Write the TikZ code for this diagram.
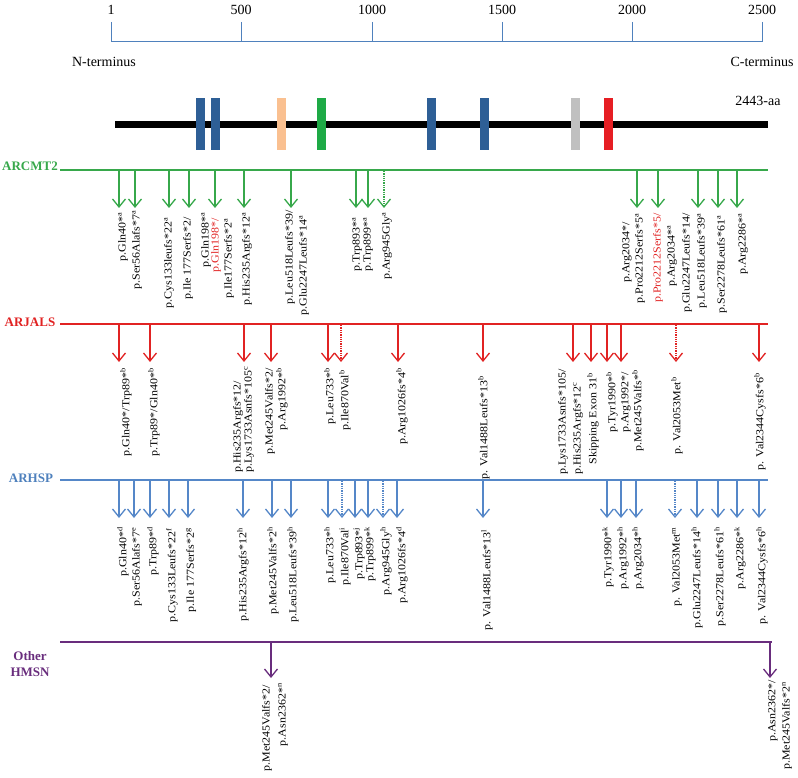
\documentclass[tikz,border=0pt]{standalone}
\usepackage{fontspec}
\setmainfont{Liberation Serif}
\newfontfamily\labfont[FakeStretch=1.12]{Liberation Serif}
\usetikzlibrary{arrows.meta}
\definecolor{cgreen}{RGB}{55,168,75}
\definecolor{cred}{RGB}{225,35,35}
\definecolor{cblue}{RGB}{85,135,200}
\definecolor{cpurple}{RGB}{105,45,125}
\definecolor{axblue}{RGB}{79,129,189}
\definecolor{dblue}{RGB}{46,95,150}
\definecolor{dpeach}{RGB}{250,192,144}
\definecolor{dgreen}{RGB}{30,170,70}
\definecolor{dgrey}{RGB}{192,192,192}
\definecolor{dred}{RGB}{230,30,35}
\newcommand\sps[1]{\textsuperscript{#1}}
\newcommand\lbl[5][black]{\node[lab,text=#1] (#2) at (#3,#4) {#5};}
\newcommand\lblb[5][black]{\node[labb,text=#1] (#2) at (#3,#4) {#5};}
\newcommand\arw[5]{\coordinate (#1a) at (#2,#3); \coordinate (#1b) at (#2,#4); \draw[#5] (#1a) -- (#1b);}
\begin{document}
\begin{tikzpicture}[x=1pt,y=-1pt,
  lab/.style={rotate=90, anchor=east, inner sep=0pt, font=\labfont\fontsize{10.7}{12}\selectfont},
  labb/.style={lab, anchor=west},
  ttl/.style={font=\fontsize{13}{16}\selectfont\bfseries, inner sep=0pt, align=center},
  tick/.style={font=\fontsize{14}{16}\selectfont, inner sep=0pt},
  arrg/.style={draw=cgreen, line width=1.3pt, -{Straight Barb[length=8pt,width=13pt]}},
  arrr/.style={draw=cred, line width=1.3pt, -{Straight Barb[length=8pt,width=13pt]}},
  arrb/.style={draw=cblue, line width=1.3pt, -{Straight Barb[length=8pt,width=13pt]}},
  arrp/.style={draw=cpurple, line width=1.3pt, -{Straight Barb[length=8pt,width=13pt]}},
  dots/.style={densely dotted},
  dom/.style={minimum width=9pt, minimum height=52pt, inner sep=0pt, draw=none}
]
\useasboundingbox (0,0) rectangle (798,778);
% ---- scale axis
\coordinate (ax0) at (111,42); \coordinate (ax1) at (762,42);
\draw[axblue, line width=1pt] (ax0) -- (ax1);
\foreach \x/\t [count=\i] in {111/1,241/500,372/1000,502/1500,632/2000,762/2500}{
  \coordinate (tk\i) at (\x,22);
  \draw[axblue, line width=1pt] (tk\i) -- (\x,42);
  \node[tick] (tl\i) at (\x,10) {\t};
}
\node[tick] (nterm) at (104,62) {N-terminus};
\node[tick] (cterm) at (762,62) {C-terminus};
% ---- protein bar
\coordinate (bar0) at (115,124.5); \coordinate (bar1) at (768,124.5);
\draw[black, line width=7pt] (bar0) -- (bar1);
\node[dom, fill=dblue] (d1) at (200,124) {};
\node[dom, fill=dblue] (d2) at (215,124) {};
\node[dom, fill=dpeach] (d3) at (281,124) {};
\node[dom, fill=dgreen] (d4) at (321,124) {};
\node[dom, fill=dblue] (d5) at (431,124) {};
\node[dom, fill=dblue] (d6) at (484,124) {};
\node[dom, fill=dgrey] (d7) at (575,124) {};
\node[dom, fill=dred] (d8) at (608,124) {};
\node[tick] (aa) at (758,101) {2443-aa};
% ---- section lines
\node[ttl, text=cgreen] (tARCMT) at (30,166) {ARCMT2};
\node[ttl, text=cred] (tARJALS) at (30,322) {ARJALS};
\node[ttl, text=axblue] (tARHSP) at (31,478) {ARHSP};
\node[ttl, text=cpurple] (tOther) at (30,664) {Other\\HMSN};
\coordinate (Lg0) at (60,170); \coordinate (Lg1) at (768,170);
\coordinate (Lr0) at (60,324); \coordinate (Lr1) at (768,324);
\coordinate (Lb0) at (60,480); \coordinate (Lb1) at (768,480);
\coordinate (Lp0) at (60,642); \coordinate (Lp1) at (772,642);
\draw[cgreen, line width=2.4pt] (Lg0) -- (Lg1);
\draw[cred, line width=2.4pt] (Lr0) -- (Lr1);
\draw[cblue, line width=2.4pt] (Lb0) -- (Lb1);
\draw[cpurple, line width=2.4pt] (Lp0) -- (Lp1);
% ---- ARCMT2 arrows
\foreach \x [count=\i] in {119,135,169,189,215,244,291,356,368,637,658,698,718,737}{
  \arw{ga\i}{\x}{171}{208}{arrg}
}
\arw{gdot}{384}{171}{208}{arrg,dots}
% ---- ARCMT2 labels
\lbl{g1}{123}{212}{p.Gln40*\sps{a}}
\lbl{g2}{137}{210}{p.Ser56Alafs*7\sps{a}}
\lbl{g3}{169}{217}{p.Cys133leufs*22\sps{a}}
\lbl{g4}{188}{217}{p.Ile 177Serfs*2/}
\lbl{g5a}{206}{212}{p.Gln198*\sps{a}}
\lbl[cred]{g5b}{216}{218}{p.Gln198*/}
\lbl{g5c}{229}{218}{p.Ile177Serfs*2\sps{a}}
\lbl{g6}{247}{212}{p.His235Argfs*12\sps{a}}
\lbl{g7a}{290}{210}{p.Leu518Leufs*39/}
\lbl{g7b}{304}{215}{p.Glu2247Leufs*14\sps{a}}
\lbl{g8}{357}{217}{p.Trp893*\sps{a}}
\lbl{g9}{368}{217}{p.Trp899*\sps{a}}
\lbl{g10}{387}{212}{p.Arg945Gly\sps{a}}
\lbl{g11a}{627}{222}{p.Arg2034*/}
\lbl{g11b}{640}{213}{p.Pro2212Serfs*5\sps{a}}
\lbl[cred]{g12a}{658}{213}{p.Pro2212Serfs*5/}
\lbl{g12b}{672}{225}{p.Arg2034*\sps{a}}
\lbl{g13a}{687}{213}{p.Glu2247Leufs*14/}
\lbl{g13b}{702}{213}{p.Leu518Leufs*39\sps{a}}
\lbl{g14}{722}{215}{p.Ser2278Leufs*61\sps{a}}
\lbl{g15}{743}{213}{p.Arg2286*\sps{a}}
% ---- ARJALS arrows
\foreach \x [count=\i] in {119,150,244,271,328,398,483,573,591,607,621,759}{
  \arw{ra\i}{\x}{325}{362}{arrr}
}
\arw{rdot1}{341}{325}{362}{arrr,dots}
\arw{rdot2}{676}{325}{362}{arrr,dots}
% ---- ARJALS labels
\lbl{r1}{126}{368}{p.Gln40*/Trp89*\sps{b}}
\lbl{r2}{154}{368}{p.Trp89*/Gln40*\sps{b}}
\lblb{r3a}{238}{473}{p.His235Argfs*12/}
\lblb{r3b}{249}{473}{p.Lys1733Asnfs*105\sps{c}}
\lbl{r4a}{270}{368}{p.Met245Valfs*2/}
\lbl{r4b}{282}{368}{p.Arg1992*\sps{b}}
\lbl{r5}{330}{368}{p.Leu733*\sps{b}}
\lbl{r6}{345}{370}{p.Ile870Val\sps{b}}
\lbl{r7}{402}{368}{p.Arg1026fs*4\sps{b}}
\lbl{r8}{484}{376}{p. Val1488Leufs*13\sps{b}}
\lblb{r9a}{563}{475}{p.Lys1733Asnfs*105/}
\lblb{r9b}{578}{475}{p.His235Argfs*12\sps{c}}
\lbl{r10}{593}{373}{Skipping Exon 31\sps{b}}
\lbl{r11}{612}{372}{p.Tyr1990*\sps{b}}
\lbl{r12a}{626}{372}{p.Arg1992*/}
\lbl{r12b}{638}{370}{p.Met245Valfs*\sps{b}}
\lbl{r13}{677}{377}{p. Val2053Met\sps{b}}
\lbl{r14}{760}{373}{p. Val2344Cysfs*6\sps{b}}
% ---- ARHSP arrows
\foreach \x [count=\i] in {119,134,150,169,188,243,272,291,328,355,368,397,483,607,621,636,697,718,737,759}{
  \arw{ba\i}{\x}{481}{518}{arrb}
}
\arw{bdot1}{342}{481}{518}{arrb,dots}
\arw{bdot2}{383}{481}{518}{arrb,dots}
\arw{bdot3}{675}{481}{518}{arrb,dots}
% ---- ARHSP labels
\lbl{b1}{123}{527}{p.Gln40*\sps{d}}
\lbl{b2}{137}{527}{p.Ser56Alafs*7\sps{e}}
\lbl{b3}{153}{527}{p.Trp89*\sps{d}}
\lbl{b4}{172}{528}{p.Cys133Leufs*22\sps{f}}
\lbl{b5}{191}{528}{p.Ile 177Serfs*2\sps{g}}
\lbl{b6}{243}{528}{p.His235Argfs*12\sps{h}}
\lbl{b7}{273}{527}{p.Met245Valfs*2\sps{h}}
\lbl{b8}{293}{527}{p.Leu518Leufs*39\sps{h}}
\lbl{b9}{330}{527}{p.Leu733*\sps{h}}
\lbl{b10}{345}{527}{p.Ile870Val\sps{i}}
\lbl{b11}{359}{527}{p.Trp893*\sps{j}}
\lbl{b12}{370}{527}{p.Trp899*\sps{k}}
\lbl{b13}{386}{527}{p.Arg945Gly\sps{h}}
\lbl{b14}{402}{527}{p.Arg1026fs*4\sps{d}}
\lbl{b15}{487}{529}{p. Val1488Leufs*13\sps{l}}
\lbl{b16}{608}{527}{p.Tyr1990*\sps{k}}
\lbl{b17}{623}{527}{p.Arg1992*\sps{h}}
\lbl{b18}{638}{527}{p.Arg2034*\sps{h}}
\lbl{b19}{677}{527}{p. Val2053Met\sps{m}}
\lbl{b20}{697}{527}{p.Glu2247Leufs*14\sps{h}}
\lbl{b21}{720}{527}{p.Ser2278Leufs*61\sps{h}}
\lbl{b22}{740}{527}{p.Arg2286*\sps{k}}
\lbl{b23}{762}{527}{p. Val2344Cysfs*6\sps{h}}
% ---- Other HMSN arrows
\arw{pa1}{271}{643}{678}{arrp}
\arw{pa2}{770}{643}{678}{arrp}
\lbl{p1a}{267}{685}{p.Met245Valfs*2/}
\lbl{p1b}{283}{683}{p.Asn2362*\sps{n}}
\lbl{p2a}{773}{680}{p.Asn2362*/}
\lbl{p2b}{787}{682}{p.Met245Valfs*2\sps{n}}
\end{tikzpicture}
\end{document}
